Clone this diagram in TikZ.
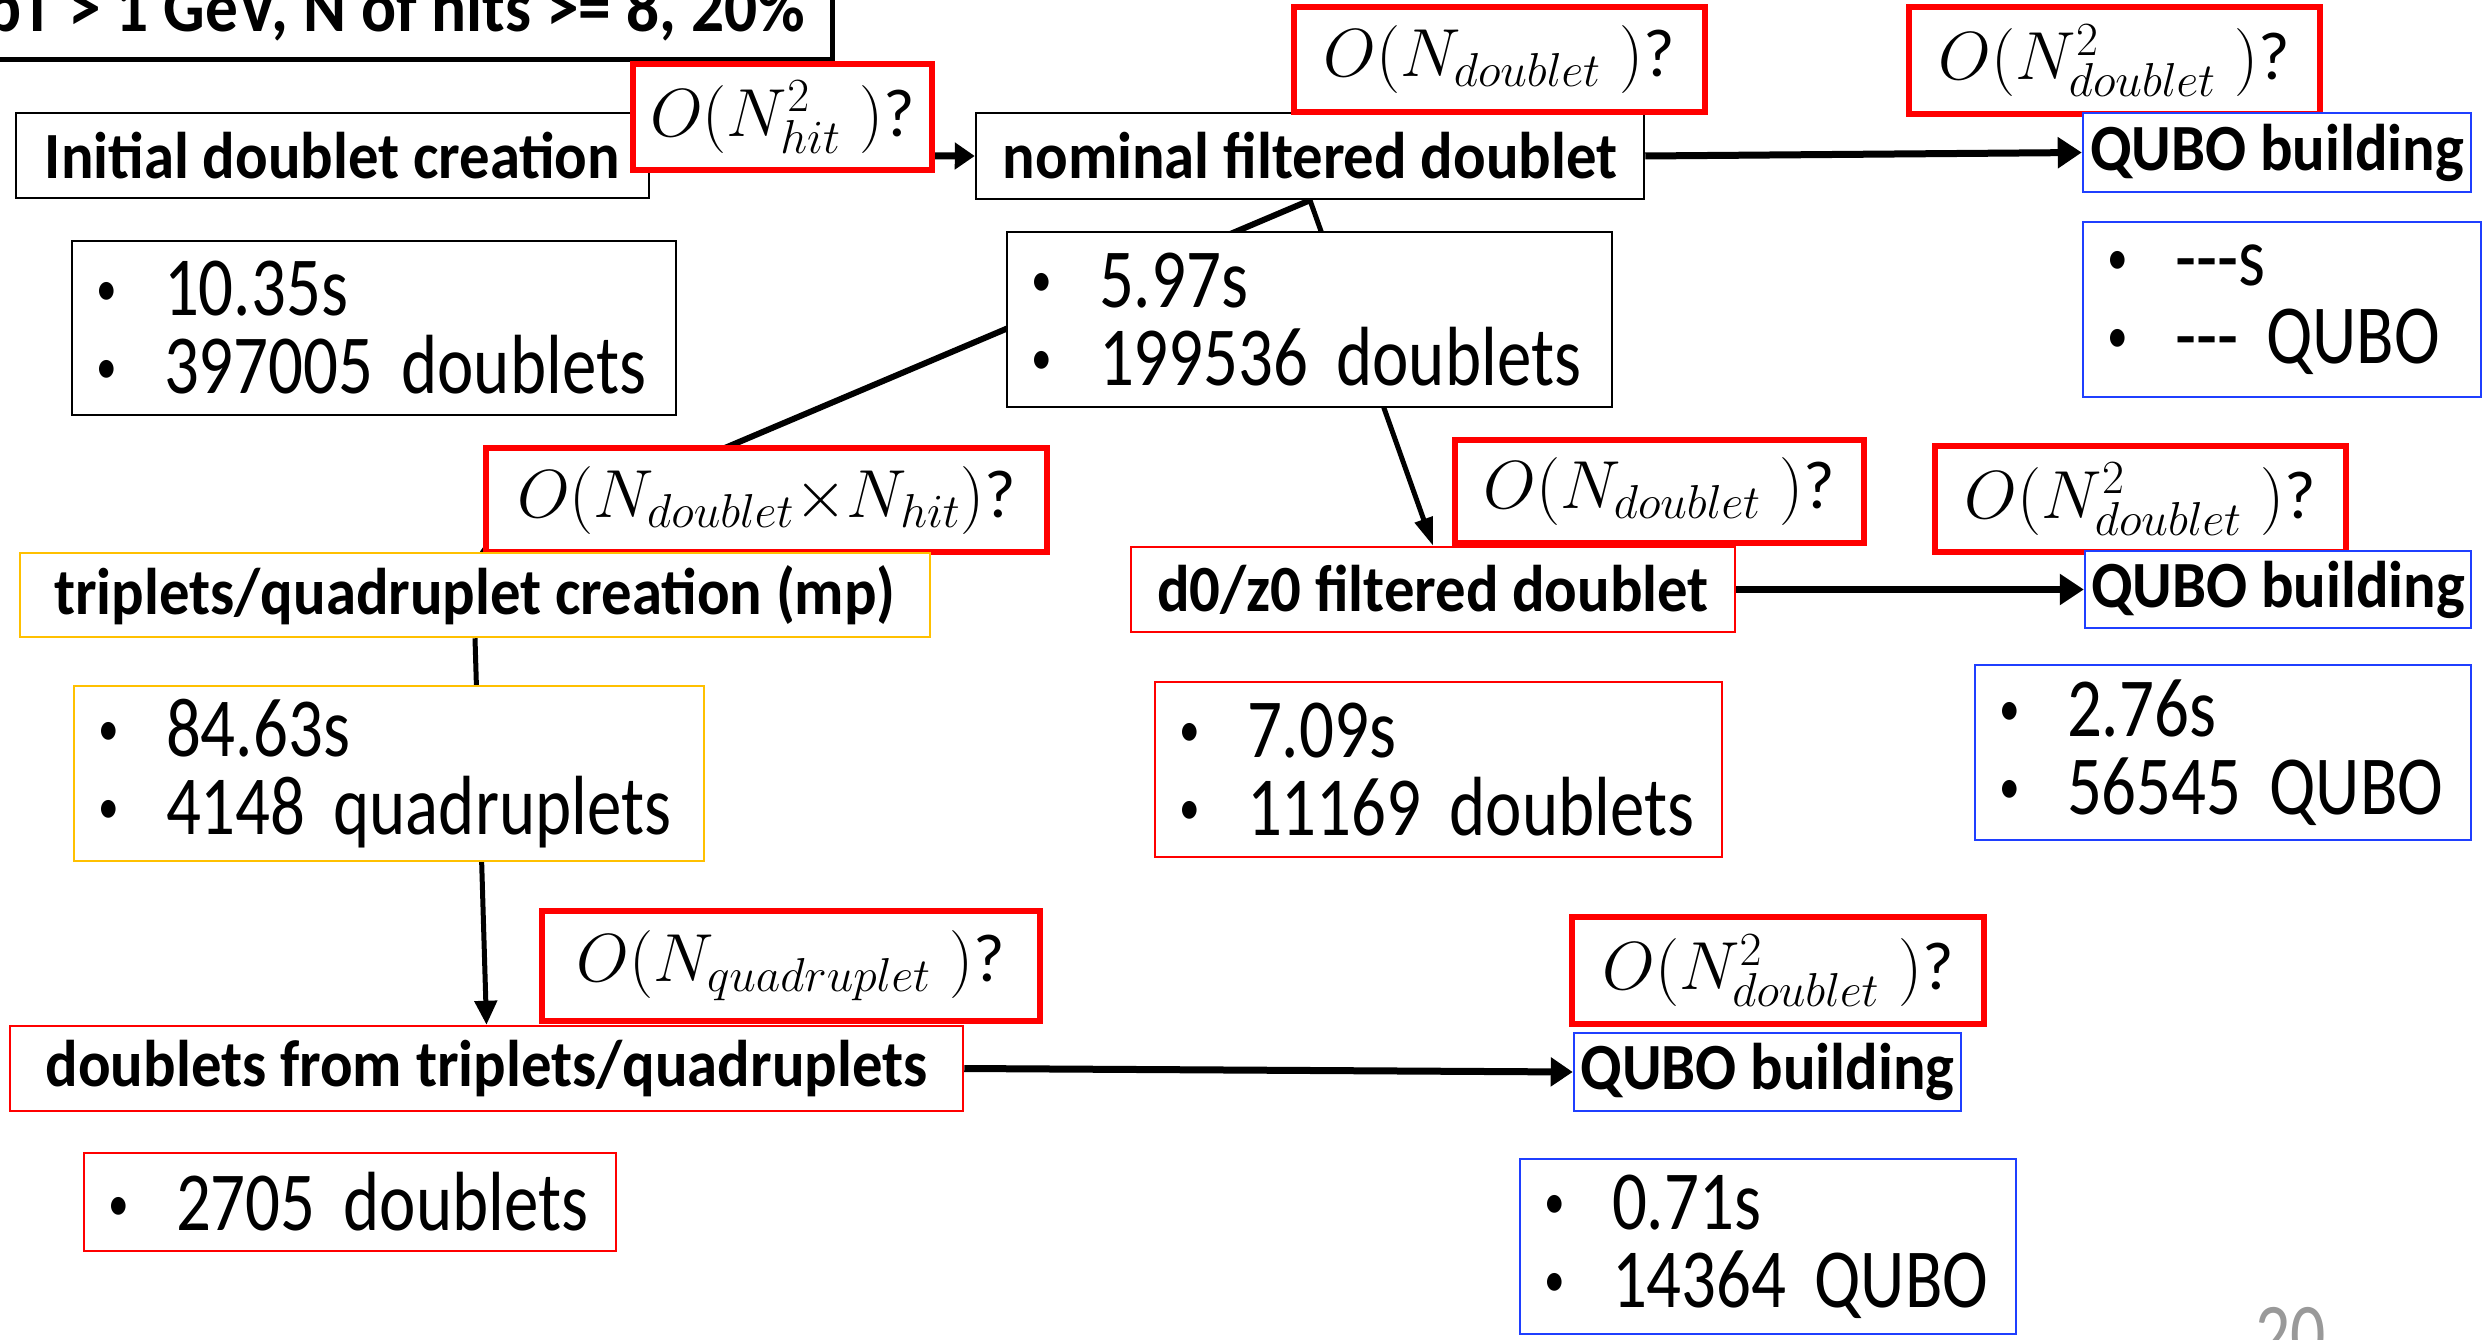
\RequirePackage{fix-cm}
\documentclass[tikz,border=0pt]{standalone}
\usepackage{fontspec}
\setmainfont{Carlito}
\newfontfamily\headfont[FakeStretch=0.92]{Carlito}
\newfontfamily\statfont[FakeStretch=0.82,Ligatures=TeXOff]{Carlito}
\usetikzlibrary{backgrounds,arrows.meta,calc}
\definecolor{qblue}{HTML}{1F3FFF}
\definecolor{gold}{HTML}{FFC000}
\newcommand\bitem[1]{\makebox[68pt][l]{\raisebox{0.126em}{\scalebox{0.6}{\textbullet}}}\mbox{#1}}
\begin{document}
\begin{tikzpicture}[x=1pt,y=-1pt,
  every node/.style={inner sep=0pt, fill=white},
  hd/.style={draw, line width=2.5pt, font={\headfont\bfseries\fontsize{66}{70}\selectfont}},
  cx/.style={draw=red, line width=6pt, font={\fontsize{68}{80}\selectfont}},
  st/.style={draw, line width=2.5pt, inner xsep=24pt, align=left, font={\statfont\fontsize{84}{78}\selectfont}}
]
\useasboundingbox (0,0) rectangle (2484,1340);

% top clipped box
\node[draw, line width=5pt, minimum width=862, minimum height=100] (cutbox) at (401,10) {};
\node[fill=none, anchor=base east, font={\headfont\bfseries\fontsize{71}{72}\selectfont}] (cuttext) at (805,32) {pT > 1 GeV, N of hits >= 8, 20\%};

% row 1
\node[hd, minimum width=633, minimum height=85] (init) at (332.5,155.5) {Initial doublet creation};
\node[cx, minimum width=299, minimum height=106] (c1) at (782.5,117) {$O(N_{hit}^{2}\;)$?};
\node[hd, minimum width=668, minimum height=86] (nom) at (1310,156) {nominal filtered doublet};
\node[cx, minimum width=411, minimum height=105] (c2) at (1499.5,59.5) {$O(N_{doublet}\;)$?};
\node[cx, minimum width=411, minimum height=107] (c3) at (2114.5,60.5) {$O(N_{doublet}^{2}\;)$?};
\node[hd, draw=qblue, minimum width=388, minimum height=79] (q1) at (2277,152.5) {QUBO building};

\node[st, text width=556, minimum height=174] (s0) at (374,328) {\bitem{10.35s}\\\bitem{397005 doublets}};
\node[st, text width=557, minimum height=175] (s2) at (1309.5,319.5) {\bitem{5.97s}\\\bitem{199536 doublets}};
\node[st, draw=qblue, text width=350, minimum height=175] (s1) at (2282,309.5) {\bitem{---s}\\\bitem{--- QUBO}};

% row 2
\node[cx, minimum width=561, minimum height=104] (c4) at (766.5,500) {$O(N_{doublet}{\times}N_{hit})$?};
\node[hd, draw=gold, minimum width=910, minimum height=84] (trip) at (475,595) {triplets/quadruplet creation (mp)};
\node[cx, minimum width=409, minimum height=103] (c5) at (1659.5,491.5) {$O(N_{doublet}\;)$?};
\node[hd, draw=red, minimum width=604, minimum height=85] (d0) at (1433,589.5) {d0/z0 filtered doublet};
\node[cx, minimum width=411, minimum height=106] (c6) at (2140.5,499) {$O(N_{doublet}^{2}\;)$?};
\node[hd, draw=qblue, minimum width=386, minimum height=77] (q2) at (2278,589.5) {QUBO building};

\node[st, draw=gold, text width=582, minimum height=175] (s3) at (389,773.5) {\bitem{84.63s}\\\bitem{4148 quadruplets}};
\node[st, draw=red, text width=519, minimum height=175] (s4) at (1438.5,769.5) {\bitem{7.09s}\\\bitem{11169 doublets}};
\node[st, draw=qblue, text width=448, minimum height=175] (s5) at (2223,752.5) {\bitem{2.76s}\\\bitem{56545 QUBO}};

% row 3
\node[cx, minimum width=498, minimum height=110] (c7) at (791,966) {$O(N_{quadruplet}\;)$?};
\node[hd, draw=red, minimum width=953, minimum height=85] (dfrom) at (486.5,1068.5) {doublets from triplets/quadruplets};
\node[cx, minimum width=412, minimum height=107] (c8) at (1778,970.5) {$O(N_{doublet}^{2}\;)$?};
\node[hd, draw=qblue, minimum width=387, minimum height=78] (q3) at (1767.5,1072) {QUBO building};

\node[st, draw=red, text width=484, minimum height=98] (s6) at (350,1202) {\bitem{2705 doublets}};
\node[st, draw=qblue, text width=448, minimum height=175] (s7) at (1768,1246.5) {\bitem{0.71s}\\\bitem{14364 QUBO}};

\node[fill=none, anchor=base west, text=black!40, font={\statfont\fontsize{85}{90}\selectfont}] (pg) at (2255,1362) {20};

\begin{pgfonlayer}{background}
\draw[line width=7pt, -{Triangle[length=20pt,width=26pt]}] (init.east) -- (nom.west);
\draw[line width=7pt, -{Triangle[length=24pt,width=30pt]}] (nom.east) -- (q1.west);
\draw[line width=6pt, -{Triangle[length=14pt,width=16pt]}] (nom.south) -- ($(trip.north west)+(461,0)$);
\draw[line width=5pt, -{Triangle[length=28pt,width=18pt]}] (nom.south) -- (d0.north);
\draw[line width=5pt, -{Triangle[length=24pt,width=22pt]}] (trip.south) -- (dfrom.north);
\draw[line width=7pt, -{Triangle[length=24pt,width=30pt]}] (d0.east) -- (q2.west);
\draw[line width=7pt, -{Triangle[length=22pt,width=28pt]}] (dfrom.east) -- (q3.west);
\end{pgfonlayer}
\end{tikzpicture}
\end{document}
